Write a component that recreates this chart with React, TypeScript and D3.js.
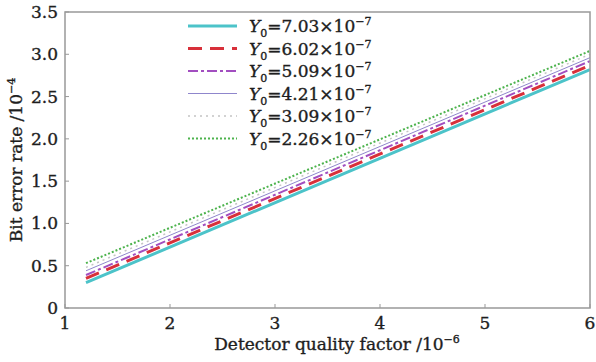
import { useMemo } from 'react';
import * as d3 from 'd3';

// Detector quality factor (x 10^-6), start and end of each curve
const xValues = [1.2, 6];

// Bit error rate (x 10^-4) at those x values, one series per Y0
const seriesNames = ['7.03', '6.02', '5.09', '4.21', '3.09', '2.26'];
const berY703 = [0.3, 2.82];
const berY602 = [0.35, 2.87];
const berY509 = [0.39, 2.92];
const berY421 = [0.44, 2.96];
const berY309 = [0.48, 3.0];
const berY226 = [0.53, 3.04];

const xTicks = [1, 2, 3, 4, 5, 6];
const yTicks = [0, 0.5, 1.0, 1.5, 2.0, 2.5, 3.0, 3.5];

const styles = [
  { color: '#4cc3c9', width: 3, dash: '' },
  { color: '#d8303a', width: 3, dash: '14,8' },
  { color: '#a24ec0', width: 2, dash: '10,3,3,3' },
  { color: '#8f86cc', width: 1, dash: '' },
  { color: '#c4c4c4', width: 1.5, dash: '2,4' },
  { color: '#4db34d', width: 2, dash: '2,2' },
];

const W = 596;
const H = 362;
const margin = { top: 12, right: 6, bottom: 54, left: 65 };
const font = '"DejaVu Serif", "Liberation Serif", serif';
const ink = '#1e1e1e';

const App = () => {
  const series = [berY703, berY602, berY509, berY421, berY309, berY226];

  const x = useMemo(() => d3.scaleLinear().domain([1, 6]).range([margin.left, W - margin.right]), []);
  const y = useMemo(() => d3.scaleLinear().domain([0, 3.5]).range([H - margin.bottom, margin.top]), []);

  const line = d3.line<[number, number]>()
    .x(d => x(d[0]))
    .y(d => y(d[1]));

  const x0 = x(1), x1 = x(6), y0 = y(0), y1 = y(3.5);

  return (
    <svg width={W} height={H} style={{ position: 'absolute', left: 0, top: 0, background: '#fff' }} fontFamily={font}>
      {/* curves */}
      {series.map((vals, i) => (
        <path
          key={i}
          d={line(xValues.map((xv, j) => [xv, vals[j]] as [number, number])) || ''}
          fill="none"
          stroke={styles[i].color}
          strokeWidth={styles[i].width}
          strokeDasharray={styles[i].dash}
        />
      ))}

      {/* frame */}
      <rect x={x0} y={y1} width={x1 - x0} height={y0 - y1} fill="none" stroke="#999" strokeWidth={1.5} />

      <g fill={ink} stroke={ink} strokeWidth={0.35}>
        {/* x ticks */}
        {xTicks.map(t => (
          <g key={t}>
            <line x1={x(t)} x2={x(t)} y1={y0} y2={y0 - 4} stroke="#999" strokeWidth={1} />
            <text x={x(t)} y={y0 + 21} textAnchor="middle" fontSize={17}>{t}</text>
          </g>
        ))}

        {/* y ticks */}
        {yTicks.map(t => (
          <g key={t}>
            <line x1={x0} x2={x0 + 4} y1={y(t)} y2={y(t)} stroke="#999" strokeWidth={1} />
            <text x={x0 - 7} y={y(t) + 6} textAnchor="end" fontSize={17}>
              {t === 0 ? '0' : t.toFixed(1)}
            </text>
          </g>
        ))}

        {/* axis titles */}
        <text x={337} y={350} textAnchor="middle" fontSize={17}>
          Detector quality factor /10
          <tspan dy={-7} fontSize={11}>−6</tspan>
        </text>
        <text transform={`translate(22, ${(y0 + y1) / 2}) rotate(-90)`} textAnchor="middle" fontSize={17}>
          Bit error rate /10
          <tspan dy={-7} fontSize={11}>−4</tspan>
        </text>

        {/* legend */}
        {seriesNames.map((name, i) => {
          const ly = 26 + i * 22.5;
          return (
            <g key={name}>
              <line x1={188} x2={237} y1={ly} y2={ly} stroke={styles[i].color} strokeWidth={styles[i].width} strokeDasharray={styles[i].dash} />
              <text x={249} y={ly + 6} fontSize={17}>
                <tspan fontStyle="italic">Y</tspan>
                <tspan dy={5} fontSize={11}>0</tspan>
                <tspan dy={-5}>={name}×10</tspan>
                <tspan dy={-7} fontSize={11}>−7</tspan>
              </text>
            </g>
          );
        })}
      </g>
    </svg>
  );
};

export default App;
